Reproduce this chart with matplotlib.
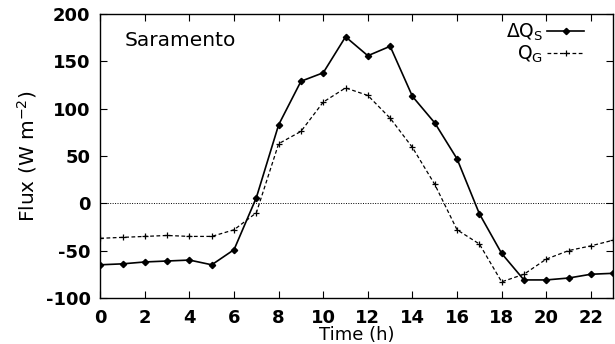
import matplotlib
matplotlib.use("Agg")
import matplotlib.pyplot as plt

# hourly data
hours = list(range(24))
dqs = [-65, -64, -62, -61, -60, -65, -49, 6, 83, 129, 138, 176, 156, 166,
       113, 85, 47, -11, -53, -81, -81, -79, -75, -74]
qg = [-37, -36, -35, -34, -35, -35, -28, -10, 63, 76, 107, 122, 114, 90,
      59, 20, -28, -43, -83, -75, -59, -50, -45, -39]

xticks = list(range(0, 23, 2))
yticks = [-100, -50, 0, 50, 100, 150, 200]

plt.rcParams.update({"font.family": "DejaVu Sans", "mathtext.fontset": "dejavusans",
                     "axes.unicode_minus": False})

fig = plt.figure(figsize=(6.15, 3.44), dpi=100)
ax = fig.add_axes([0.163, 0.134, 0.834, 0.825])

ax.axhline(0, color="black", lw=0.7, ls=(0, (1, 1.5)), zorder=1)
ax.plot(hours, dqs, color="black", lw=1.2, marker="D", ms=3.2,
        label=r"$\Delta$Q$_\mathrm{S}$", zorder=3)
ax.plot(hours, qg, color="black", lw=0.9, ls=(0, (3, 2)), marker="+", ms=5,
        mew=0.9, label=r"Q$_\mathrm{G}$", zorder=3)

ax.set_xlim(0, 23)
ax.set_ylim(-100, 200)
ax.set_xticks(xticks)
ax.set_yticks(yticks)
ax.tick_params(direction="in", top=True, right=True, length=5, width=0.8,
               labelsize=13)
ax.tick_params(axis="x", pad=8)
ax.tick_params(axis="y", pad=7)
for lbl in ax.get_xticklabels() + ax.get_yticklabels():
    lbl.set_fontweight("bold")
for s in ax.spines.values():
    s.set_linewidth(1.0)

ax.set_xlabel("Time (h)", fontsize=13, labelpad=-1)
ax.set_ylabel("Flux (W m$^{-2}$)", fontsize=14.5, labelpad=5)

ax.text(0.048, 0.94, "Saramento", transform=ax.transAxes, fontsize=14.5,
        ha="left", va="top")

leg = ax.legend(loc="upper right", markerfirst=False, frameon=False,
                fontsize=13.5, handlelength=2.0, handletextpad=0.2,
                labelspacing=0.0, borderaxespad=0.1,
                bbox_to_anchor=(0.962, 1.005))
for t in leg.get_texts():
    t.set_ha("right")

fig.savefig("out.png", dpi=100)
